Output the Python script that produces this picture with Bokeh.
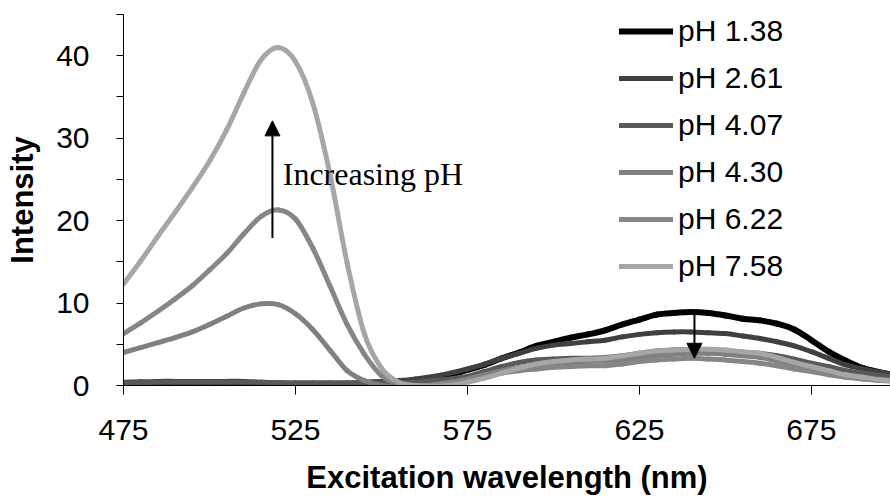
from bokeh.plotting import figure
from bokeh.models import (Legend, LegendItem, FixedTicker, Arrow, NormalHead,
                          Label, Range1d, ColumnDataSource)
from bokeh.embed import file_html
from bokeh.resources import INLINE

# ---------------- data ----------------
wavelength = [475, 480, 485, 490, 495, 500, 505, 510, 515, 520,
              525, 530, 535, 540, 545, 550, 555, 560, 565, 570,
              575, 580, 585, 590, 595, 600, 605, 610, 615, 620,
              625, 630, 635, 640, 645, 650, 655, 660, 665, 670,
              675, 680, 685, 690, 695, 700]

ph_1_38 = [0.2, 0.25, 0.3, 0.35, 0.4, 0.4, 0.4, 0.3, 0.1, -0.1,
           -0.15, -0.1, 0.0, 0.1, 0.2, 0.3, 0.4, 0.6, 0.9, 1.3,
           1.9, 2.5, 3.3, 4.0, 4.8, 5.3, 5.8, 6.2, 6.7, 7.4,
           8.0, 8.6, 8.8, 8.9, 8.8, 8.5, 8.1, 7.9, 7.5, 6.8,
           5.5, 4.1, 3.0, 2.1, 1.6, 1.2]

ph_2_61 = [0.4, 0.45, 0.5, 0.5, 0.5, 0.5, 0.5, 0.5, 0.4, 0.3,
           0.3, 0.3, 0.3, 0.3, 0.4, 0.5, 0.6, 0.8, 1.1, 1.5,
           2.0, 2.6, 3.3, 3.9, 4.5, 4.9, 5.1, 5.3, 5.5, 5.9,
           6.2, 6.4, 6.5, 6.5, 6.4, 6.3, 6.0, 5.7, 5.3, 4.8,
           4.1, 3.3, 2.5, 2.0, 1.6, 1.3]

ph_4_07 = [0.3, 0.35, 0.4, 0.4, 0.4, 0.4, 0.4, 0.4, 0.4, 0.35,
           0.3, 0.3, 0.3, 0.3, 0.3, 0.3, 0.3, 0.4, 0.6, 0.8,
           1.1, 1.7, 2.3, 2.8, 3.1, 3.2, 3.3, 3.3, 3.4, 3.6,
           3.9, 4.2, 4.3, 4.4, 4.3, 4.2, 4.0, 3.9, 3.6, 3.2,
           2.7, 2.3, 1.8, 1.5, 1.2, 1.0]

ph_4_30 = [4.0, 4.6, 5.2, 5.8, 6.5, 7.4, 8.4, 9.4, 9.9, 9.8,
           8.7, 6.8, 4.3, 1.8, 0.6, 0.0, -0.2, -0.1, 0.1, 0.4,
           0.8, 1.3, 1.8, 2.2, 2.5, 2.7, 2.8, 2.9, 3.0, 3.1,
           3.4, 3.6, 3.8, 3.9, 3.9, 3.8, 3.6, 3.4, 3.0, 2.5,
           2.0, 1.6, 1.2, 0.9, 0.7, 0.6]

ph_6_22 = [6.3, 7.6, 9.0, 10.5, 12.1, 14.0, 16.0, 18.4, 20.5, 21.3,
           20.2, 16.7, 12.1, 7.4, 3.8, 1.2, 0.2, -0.1, 0.0, 0.3,
           0.6, 1.0, 1.5, 1.8, 2.0, 2.2, 2.3, 2.4, 2.4, 2.6,
           2.9, 3.1, 3.2, 3.3, 3.2, 3.1, 2.9, 2.7, 2.4, 2.0,
           1.7, 1.3, 1.0, 0.8, 0.6, 0.5]

ph_7_58 = [12.3, 15.1, 18.1, 21.0, 24.0, 27.2, 31.0, 35.5, 39.5, 41.0,
           39.3, 34.3, 25.7, 14.9, 6.3, 2.1, 0.4, 0.0, -0.1, 0.0,
           0.4, 0.9, 1.5, 2.1, 2.6, 2.9, 3.1, 3.2, 3.3, 3.6,
           3.9, 4.2, 4.3, 4.4, 4.4, 4.3, 4.1, 3.9, 3.4, 2.8,
           2.3, 1.8, 1.3, 1.0, 0.7, 0.5]

series_labels = ["pH 1.38", "pH 2.61", "pH 4.07", "pH 4.30", "pH 6.22", "pH 7.58"]
series_values = [ph_1_38, ph_2_61, ph_4_07, ph_4_30, ph_6_22, ph_7_58]

x_ticks = [475, 525, 575, 625, 675]
y_ticks = [0, 10, 20, 30, 40]
y_minor_ticks = [5, 15, 25, 35, 45]

# annotations
up_arrow = dict(x=518.3, y0=17.9, y1=32.1)
down_arrow = dict(x=641.0, y0=8.85, y1=3.3)
note_text = "Increasing pH"
note_pos = (521.3, 25.7)

# ---------------- styles ----------------
colors = ["#000000", "#404040", "#595959", "#808080", "#868686", "#a6a6a6"]
widths = [6, 5, 5, 5, 5, 5]
SANS = "Liberation Sans"
SERIF = "Liberation Serif"


def smooth_segments(xs, ys):
    """Bezier segments through the data points (Excel-style smoothed line)."""
    n = len(xs)
    d = dict(x0=[], y0=[], x1=[], y1=[], cx0=[], cy0=[], cx1=[], cy1=[])
    for i in range(n - 1):
        xa, ya = xs[max(i - 1, 0)], ys[max(i - 1, 0)]
        xb, yb = xs[i], ys[i]
        xc, yc = xs[i + 1], ys[i + 1]
        xd, yd = xs[min(i + 2, n - 1)], ys[min(i + 2, n - 1)]
        d["x0"].append(xb); d["y0"].append(yb)
        d["x1"].append(xc); d["y1"].append(yc)
        d["cx0"].append(xb + (xc - xa) / 6.0); d["cy0"].append(yb + (yc - ya) / 6.0)
        d["cx1"].append(xc - (xd - xb) / 6.0); d["cy1"].append(yc - (yd - yb) / 6.0)
    return d


p = figure(width=890, height=497, output_backend="svg", toolbar_location=None,
           x_range=Range1d(475, 698), y_range=Range1d(0, 45),
           min_border_left=123, min_border_right=0,
           min_border_top=14, min_border_bottom=112)
p.background_fill_color = "white"
p.border_fill_color = "white"
p.outline_line_color = None
p.xgrid.visible = False
p.ygrid.visible = False

items = []
for lab, vals, c, w in zip(series_labels, series_values, colors, widths):
    src = ColumnDataSource(smooth_segments(wavelength, vals))
    r = p.bezier(x0="x0", y0="y0", x1="x1", y1="y1",
                 cx0="cx0", cy0="cy0", cx1="cx1", cy1="cy1",
                 source=src, line_color=c, line_width=w, line_cap="round")
    items.append(LegendItem(label=lab, renderers=[r]))

# axes
xa = p.xaxis[0]
xa.ticker = FixedTicker(ticks=x_ticks, minor_ticks=[])
xa.axis_label = "Excitation wavelength (nm)"
xa.axis_label_text_font = SANS
xa.axis_label_text_font_style = "bold"
xa.axis_label_text_font_size = "31px"
xa.axis_label_text_color = "black"
xa.axis_label_standoff = 17
xa.major_label_text_font = SANS
xa.major_label_text_font_size = "30px"
xa.major_label_text_color = "black"
xa.major_label_standoff = 25
xa.major_tick_out = 9
xa.major_tick_in = 0
xa.minor_tick_out = 0
xa.axis_line_color = "black"
xa.major_tick_line_color = "black"

ya = p.yaxis[0]
ya.ticker = FixedTicker(ticks=y_ticks, minor_ticks=y_minor_ticks)
ya.axis_label = "Intensity"
ya.axis_label_text_font = SANS
ya.axis_label_text_font_style = "bold"
ya.axis_label_text_font_size = "31px"
ya.axis_label_text_color = "black"
ya.axis_label_standoff = 13
ya.major_label_text_font = SANS
ya.major_label_text_font_size = "30px"
ya.major_label_text_color = "black"
ya.major_label_standoff = 27
ya.major_tick_out = 7
ya.major_tick_in = 0
ya.minor_tick_out = 7
ya.minor_tick_in = 0
ya.axis_line_color = "black"
ya.major_tick_line_color = "black"
ya.minor_tick_line_color = "black"

# legend
legend = Legend(items=items, location=(496, 101), orientation="vertical",
                label_text_font=SANS, label_text_font_size="30px",
                label_text_color="black",
                glyph_width=54, glyph_height=36, label_height=36,
                label_standoff=5, spacing=11, padding=0, margin=0,
                border_line_alpha=0, background_fill_alpha=0)
p.add_layout(legend)

# arrows & note
p.add_layout(Arrow(x_start=up_arrow["x"], y_start=up_arrow["y0"],
                   x_end=up_arrow["x"], y_end=up_arrow["y1"],
                   line_width=2, line_color="black",
                   end=NormalHead(size=15, fill_color="black", line_color="black")))
p.add_layout(Arrow(x_start=down_arrow["x"], y_start=down_arrow["y0"],
                   x_end=down_arrow["x"], y_end=down_arrow["y1"],
                   line_width=2, line_color="black",
                   end=NormalHead(size=15, fill_color="black", line_color="black")))
p.add_layout(Label(x=note_pos[0], y=note_pos[1], text=note_text,
                   text_font=SERIF, text_font_size="32px",
                   text_baseline="alphabetic", text_color="black"))

open("out.html", "w").write(file_html(p, INLINE))
